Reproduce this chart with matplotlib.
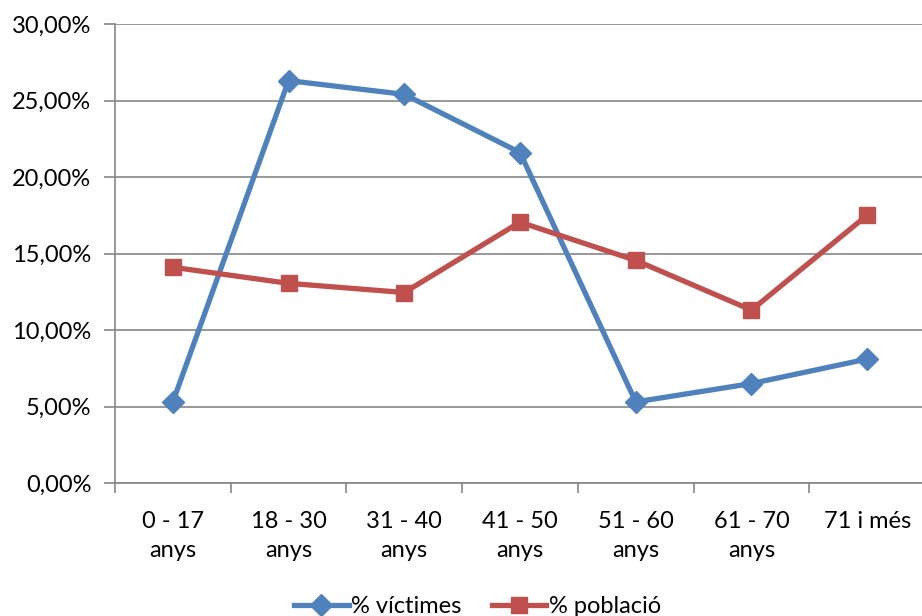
import matplotlib.pyplot as plt
from matplotlib.ticker import FixedLocator, FuncFormatter

# Dades del gràfic
categories = ["0 - 17\nanys", "18 - 30\nanys", "31 - 40\nanys", "41 - 50\nanys",
              "51 - 60\nanys", "61 - 70\nanys", "71 i més"]
victimes = [5.3, 26.3, 25.4, 21.6, 5.3, 6.5, 8.1]
poblacio = [14.1, 13.05, 12.45, 17.05, 14.55, 11.3, 17.5]

blue = "#4F81BD"
red = "#C0504D"
grid_col = "#868686"

plt.rcParams['font.family'] = ['Lato', 'DejaVu Sans']

fig = plt.figure(figsize=(9.22, 6.16), dpi=100)
ax = fig.add_axes([115 / 922, 1 - 483 / 616, 810 / 922, 459 / 616])

x = list(range(len(categories)))
ax.plot(x, victimes, color=blue, lw=3.8, marker='D', ms=11, mec=blue, mfc=blue,
        label="% víctimes", zorder=3)
ax.plot(x, poblacio, color=red, lw=3.8, marker='s', ms=12, mec=red, mfc=red,
        label="% població", zorder=3)

ax.set_xlim(-0.5, len(categories) - 0.5)
ax.set_ylim(0, 30)
ax.set_yticks([0, 5, 10, 15, 20, 25, 30])
ax.yaxis.set_major_formatter(FuncFormatter(lambda v, p: f"{v:.2f}".replace(".", ",") + "%"))
ax.yaxis.grid(True, color=grid_col, lw=1.2)
ax.set_axisbelow(True)

# marques de l'eix x als límits de les categories
ax.set_xticks(x)
ax.set_xticklabels(categories, linespacing=1.5)
ax.xaxis.set_minor_locator(FixedLocator([i - 0.5 for i in range(len(categories) + 1)]))
ax.tick_params(axis='x', which='major', length=0, pad=20, labelsize=17, colors='black')
ax.tick_params(axis='x', which='minor', length=7, width=1.2, color=grid_col)
ax.tick_params(axis='y', length=8, width=1.2, color=grid_col, pad=9, labelsize=17)

for s in ['top', 'right']:
    ax.spines[s].set_visible(False)
for s in ['left', 'bottom']:
    ax.spines[s].set_color(grid_col)
    ax.spines[s].set_linewidth(1.2)

fig.legend(loc='lower center', bbox_to_anchor=(0.518, -0.036), ncol=2, frameon=False,
           fontsize=17, handlelength=2.3, handletextpad=0.1, columnspacing=1.3)

fig.savefig("out.png", dpi=100)
